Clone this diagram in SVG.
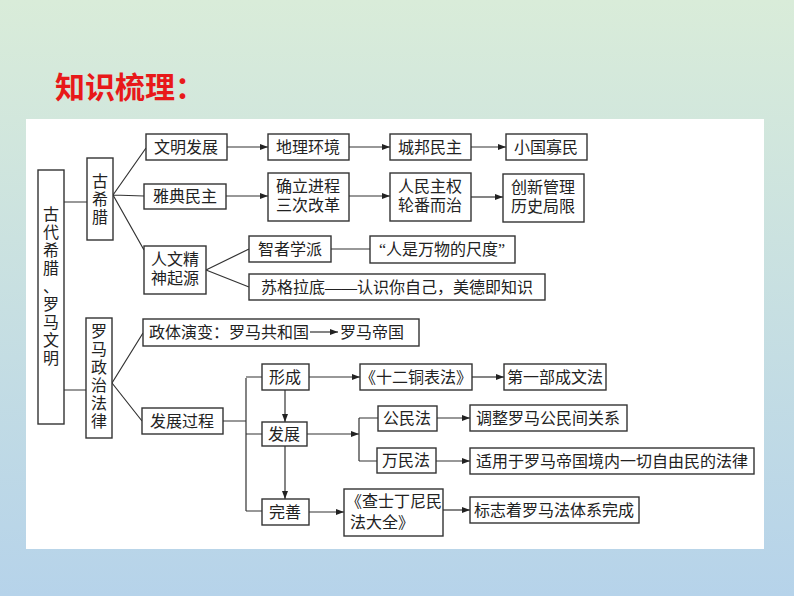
<svg xmlns="http://www.w3.org/2000/svg" width="794" height="596" viewBox="0 0 794 596">
<defs>
<linearGradient id="bg" x1="0" y1="0" x2="0" y2="1"><stop offset="0" stop-color="#d9ecd9"/><stop offset="1" stop-color="#b6d3ea"/></linearGradient>
<marker id="ar" viewBox="0 0 8 6" refX="8" refY="3" markerWidth="8" markerHeight="6" orient="auto" markerUnits="userSpaceOnUse"><path d="M0,0 L8,3 L0,6 z" fill="#222"/></marker>
</defs>
<style>
.b{fill:#fff;stroke:#333;stroke-width:1.4}
.t{font-family:"Liberation Serif","Noto Sans CJK SC",serif;font-size:16px;fill:#222;text-anchor:middle}
.ts{font-family:"Liberation Serif","Noto Sans CJK SC",serif;font-size:16px;fill:#222;text-anchor:start}
.l{fill:none;stroke:#333;stroke-width:1.2}
.a{fill:none;stroke:#333;stroke-width:1.2;marker-end:url(#ar)}
</style>
<rect width="794" height="596" fill="url(#bg)"/>
<rect x="26" y="119" width="738" height="430" fill="#fff"/>
<text x="55" y="98" style="font-family:'Noto Sans CJK SC',sans-serif;font-size:30px;font-weight:bold;fill:#e8191a">知识梳理：</text>
<g id="connectors">
<path class="l" d="M64,202 H87 M64,390 H86"/>
<path class="l" d="M113,195 L146,148 M113,195 L144,196 M113,195 L144,250"/>
<path class="a" d="M227,147 H268"/><path class="a" d="M349,147 H390"/><path class="a" d="M471,147 H506"/>
<path class="a" d="M226,196 H268"/><path class="a" d="M349,196 H390"/><path class="a" d="M471,197 H503"/>
<path class="l" d="M206,270 L249,249 M206,270 L249,287 M331,249 H370"/>
<path class="l" d="M112,383 L143,333 M112,383 L142,421"/>
<path class="l" d="M223,421 H246 M246,378 V511 M246,377 H262 M246,434 H262 M246,511 H262"/>
<path class="a" d="M285,390 V422"/><path class="a" d="M285,446 V499"/>
<path class="a" d="M309,377 H360"/><path class="a" d="M472,377 H504"/>
<path class="a" d="M307,434 H359"/><path class="l" d="M359,418 V461 M359,418 H378 M359,461 H377"/>
<path class="a" d="M437,418 H470"/><path class="a" d="M436,461 H470"/>
<path class="a" d="M309,512 H344"/><path class="a" d="M443,510 H470"/>
</g>
<g id="main"><rect class="b" x="38" y="170" width="26" height="254"/><text class="t"><tspan x="51" y="220">古</tspan><tspan x="51" y="238">代</tspan><tspan x="51" y="256">希</tspan><tspan x="51" y="274">腊</tspan><tspan x="51" y="292">、</tspan><tspan x="51" y="310">罗</tspan><tspan x="51" y="328">马</tspan><tspan x="51" y="346">文</tspan><tspan x="51" y="364">明</tspan></text></g>
<g id="greece"><rect class="b" x="87" y="158" width="26" height="82"/><text class="t"><tspan x="100" y="187">古</tspan><tspan x="100" y="205">希</tspan><tspan x="100" y="223">腊</tspan></text></g>
<g id="rome"><rect class="b" x="86" y="318" width="26" height="120"/><text class="t"><tspan x="99" y="337">罗</tspan><tspan x="99" y="355">马</tspan><tspan x="99" y="373">政</tspan><tspan x="99" y="391">治</tspan><tspan x="99" y="409">法</tspan><tspan x="99" y="427">律</tspan></text></g>
<g id="n1"><rect class="b" x="146" y="134" width="81" height="26"/><text class="t" x="186" y="153">文明发展</text></g>
<g id="n2"><rect class="b" x="268" y="134" width="81" height="26"/><text class="t" x="308" y="153">地理环境</text></g>
<g id="n3"><rect class="b" x="390" y="134" width="81" height="26"/><text class="t" x="430" y="153">城邦民主</text></g>
<g id="n4"><rect class="b" x="506" y="134" width="81" height="26"/><text class="t" x="546" y="153">小国寡民</text></g>
<g id="n5"><rect class="b" x="144" y="184" width="82" height="25"/><text class="t" x="185" y="202">雅典民主</text></g>
<g id="n6"><rect class="b" x="268" y="173" width="81" height="48"/><text class="t"><tspan x="308" y="192">确立进程</tspan><tspan x="308" y="211">三次改革</tspan></text></g>
<g id="n7"><rect class="b" x="390" y="173" width="81" height="48"/><text class="t"><tspan x="430" y="192">人民主权</tspan><tspan x="430" y="211">轮番而治</tspan></text></g>
<g id="n8"><rect class="b" x="503" y="174" width="81" height="48"/><text class="t"><tspan x="543" y="193">创新管理</tspan><tspan x="543" y="212">历史局限</tspan></text></g>
<g id="n9"><rect class="b" x="144" y="246" width="62" height="48"/><text class="t"><tspan x="175" y="265">人文精</tspan><tspan x="175" y="284">神起源</tspan></text></g>
<g id="n10"><rect class="b" x="249" y="236" width="82" height="26"/><text class="t" x="290" y="255">智者学派</text></g>
<g id="n11"><rect class="b" x="370" y="236" width="145" height="27"/><text class="t" x="442" y="255">“人是万物的尺度”</text></g>
<g id="n12"><rect class="b" x="249" y="274" width="296" height="26"/><text class="t" x="397" y="293">苏格拉底——认识你自己，美德即知识</text></g>
<g id="n13"><rect class="b" x="143" y="319" width="276" height="27"/><text class="ts" x="149" y="338">政体演变：罗马共和国</text><path class="a" d="M310,332 H338"/><text class="ts" x="340" y="338">罗马帝国</text></g>
<g id="n14"><rect class="b" x="142" y="408" width="81" height="26"/><text class="t" x="182" y="427">发展过程</text></g>
<g id="n15"><rect class="b" x="262" y="364" width="47" height="26"/><text class="t" x="285" y="383">形成</text></g>
<g id="n16"><rect class="b" x="262" y="422" width="45" height="24"/><text class="t" x="284" y="440">发展</text></g>
<g id="n17"><rect class="b" x="262" y="499" width="47" height="26"/><text class="t" x="285" y="518">完善</text></g>
<g id="n18"><rect class="b" x="360" y="364" width="112" height="26"/><text class="t" x="416" y="383">《十二铜表法》</text></g>
<g id="n19"><rect class="b" x="504" y="364" width="102" height="26"/><text class="t" x="555" y="383">第一部成文法</text></g>
<g id="n20"><rect class="b" x="378" y="406" width="59" height="25"/><text class="t" x="407" y="424">公民法</text></g>
<g id="n21"><rect class="b" x="377" y="448" width="59" height="25"/><text class="t" x="406" y="466">万民法</text></g>
<g id="n22"><rect class="b" x="470" y="405" width="157" height="26"/><text class="t" x="548" y="424">调整罗马公民间关系</text></g>
<g id="n23"><rect class="b" x="470" y="448" width="284" height="26"/><text class="t" x="612" y="467">适用于罗马帝国境内一切自由民的法律</text></g>
<g id="n24"><rect class="b" x="344" y="489" width="99" height="47"/><text class="ts" x="346" y="507">《查士丁尼民</text><text class="ts" x="350" y="528">法大全》</text></g>
<g id="n25"><rect class="b" x="470" y="497" width="169" height="26"/><text class="t" x="554" y="516">标志着罗马法体系完成</text></g>
</svg>
